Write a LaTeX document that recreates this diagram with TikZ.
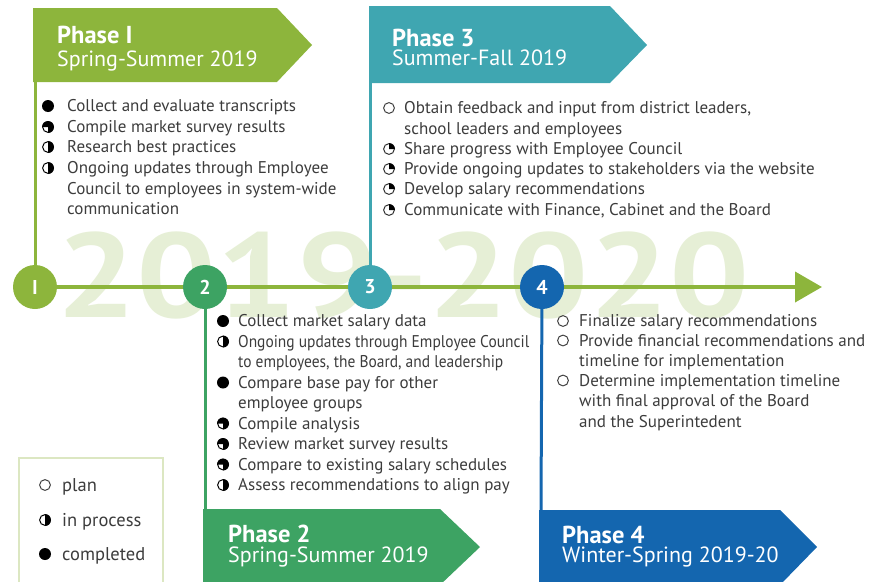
\documentclass[tikz,border=0pt]{standalone}
\usepackage{fontspec}
\setmainfont{PT Sans}
\usetikzlibrary{arrows.meta}

\definecolor{phaseA}{HTML}{8DB53C}
\definecolor{phaseB}{HTML}{3DA363}
\definecolor{phaseC}{HTML}{3FA6B1}
\definecolor{phaseD}{HTML}{1466AF}
\definecolor{bodytext}{HTML}{3C3C3C}
\definecolor{yearmark}{HTML}{E6EFD6}
\definecolor{legendrule}{HTML}{DCE7C2}

\pgfdeclarelayer{back}
\pgfsetlayers{back,main}

% one item of a task list: icon, then the (possibly wrapped) text,
% whose first baseline sits 5pt below the icon centre
\newcommand\task[6]{%
  \pic at (#3,#5) {#2};
  \node[body] (#1) at (#4,#5+5.5) {\begin{tabular}[t]{@{}l@{}}#6\end{tabular}};
}
\newcommand\narrow[1]{\scalebox{0.91}[1]{#1}}

\begin{document}
\begin{tikzpicture}[x=1pt,y=-1pt,
  body/.style={anchor=base west, inner sep=0pt, text=bodytext,
    font=\fontsize{17}{20.5}\selectfont},
  headtitle/.style={anchor=base west, inner sep=0pt, text=white,
    font=\bfseries\fontsize{24.5}{24.5}\selectfont},
  headdate/.style={anchor=base west, inner sep=0pt, text=white,
    font=\fontsize{22}{22}\selectfont},
  milestone/.style={circle, minimum size=44pt, inner sep=0pt, text=white,
    font=\bfseries\fontsize{20}{20}\selectfont},
  stem/.style={line width=3pt},
  legendtext/.style={anchor=base west, inner sep=0pt, text=bodytext,
    font=\fontsize{18.5}{18.5}\selectfont},
  pics/done/.style={code={\fill[black] (0,0) circle (6pt);}},
  pics/plan/.style={code={\draw[black!75, line width=1pt] (0,0) circle (5.4pt);}},
  pics/half/.style={code={
    \draw[black, line width=1pt] (0,0) circle (5.4pt);
    \begin{scope}[yscale=-1]
      \fill[black] (0,6) arc (90:-90:6) -- cycle;
    \end{scope}}},
  pics/quarter/.style={code={
    \draw[black!80, line width=1pt] (0,0) circle (5.4pt);
    \begin{scope}[yscale=-1]
      \fill[black] (0,0) -- (0,6) arc (90:0:6) -- cycle;
    \end{scope}}},
  pics/most/.style={code={
    \draw[black, line width=1pt] (0,0) circle (5.4pt);
    \begin{scope}[yscale=-1]
      \fill[black] (0,0) -- (-6,0) arc (180:-90:6) -- cycle;
    \end{scope}}},
]
\useasboundingbox (0,0) rectangle (870,581);

% large year range behind the timeline
\begin{pgfonlayer}{back}
  \node[inner sep=0pt, text=yearmark, font=\bfseries\fontsize{120}{120}\selectfont]
    (years) at (403,275) {\scalebox{1.18}[1]{2019-2020}};
\end{pgfonlayer}

% phase banners
\fill[phaseA] (33,8) -- (277,8) -- (312,45) -- (277,82) -- (33,82) -- cycle;
\fill[phaseC] (369,6) -- (610,6) -- (647,45) -- (610,83) -- (369,83) -- cycle;
\fill[phaseB] (203,509) -- (440,509) -- (480,547) -- (440,585) -- (203,585) -- cycle;
\fill[phaseD] (539,510) -- (780,510) -- (817,547) -- (780,585) -- (539,585) -- cycle;

\node[headtitle] (t1) at (57,43) {Phase I};
\node[headdate]  (d1) at (57,66) {Spring-Summer 2019};
\node[headtitle] (t3) at (392,46) {Phase 3};
\node[headdate]  (d3) at (392,65) {Summer-Fall 2019};
\node[headtitle] (t2) at (228,542) {Phase 2};
\node[headdate]  (d2) at (228,562) {Spring-Summer 2019};
\node[headtitle] (t4) at (562,543) {Phase 4};
\node[headdate]  (d4) at (562,562) {Winter-Spring 2019-20};

% milestones on the timeline
\node[milestone, fill=phaseA] (m1) at (35,287) {I};
\node[milestone, fill=phaseB] (m2) at (205,287) {2};
\node[milestone, fill=phaseC] (m3) at (370,287) {3};
\node[milestone, fill=phaseD] (m4) at (542,287) {4};

\coordinate (b1) at (35,81);
\coordinate (b3) at (370,82);
\coordinate (b2) at (205,510);
\coordinate (b4) at (541,511);
\coordinate (tend) at (822,287);

\begin{pgfonlayer}{back}
  \draw[phaseA, line width=4pt, -{Triangle[length=27pt,width=30pt]}] (m1) -- (tend);
  \draw[stem, phaseA] (b1) -- (m1);
  \draw[stem, phaseC] (b3) -- (m3);
  \draw[stem, phaseB] (m2) -- (b2);
  \draw[stem, phaseD] (m4) -- (b4);
\end{pgfonlayer}

% Phase I tasks
\task{a1}{done}{48}{67}{106}{Collect and evaluate transcripts}
\task{a2}{most}{48}{67}{127}{Compile market survey results}
\task{a3}{half}{48}{67}{147}{Research best practices}
\task{a4}{half}{48}{67}{168}{Ongoing updates through Employee\\Council to employees in system-wide\\communication}

% Phase 3 tasks
\task{c1}{plan}{389}{404}{108}{Obtain feedback and input from district leaders,\\school leaders and employees}
\task{c2}{quarter}{389}{404}{149}{Share progress with Employee Council}
\task{c3}{quarter}{389}{404}{169}{Provide ongoing updates to stakeholders via the website}
\task{c4}{quarter}{389}{404}{189}{Develop salary recommendations}
\task{c5}{quarter}{389}{404}{210}{Communicate with Finance, Cabinet and the Board}

% Phase 2 tasks
\task{e1}{done}{223}{238}{321}{Collect market salary data}
\task{e2}{half}{223}{238}{341.5}{\narrow{Ongoing updates through Employee Council}\\\narrow{to employees, the Board, and leadership}}
\task{e3}{done}{223}{238}{382.5}{Compare base pay for other\\employee groups}
\task{e4}{most}{223}{238}{423.5}{Compile analysis}
\task{e5}{most}{223}{238}{444}{Review market survey results}
\task{e6}{most}{223}{238}{464.5}{Compare to existing salary schedules}
\task{e7}{half}{223}{238}{485}{Assess recommendations to align pay}

% Phase 4 tasks
\task{g1}{plan}{563}{579}{321}{Finalize salary recommendations}
\task{g2}{plan}{563}{579}{340.5}{Provide financial recommendations and\\timeline for implementation}
\task{g3}{plan}{563}{579}{380.5}{Determine implementation timeline\\with final approval of the Board\\and the Superintedent}

% legend
\draw[legendrule, line width=1.2pt] (19,458) rectangle (163,600);
\pic at (45,485) {plan};
\node[legendtext] (l1) at (62,491) {plan};
\pic at (45,520) {half};
\node[legendtext] (l2) at (62,526) {in process};
\pic at (45,554) {done};
\node[legendtext] (l3) at (62,560) {completed};
\end{tikzpicture}
\end{document}
